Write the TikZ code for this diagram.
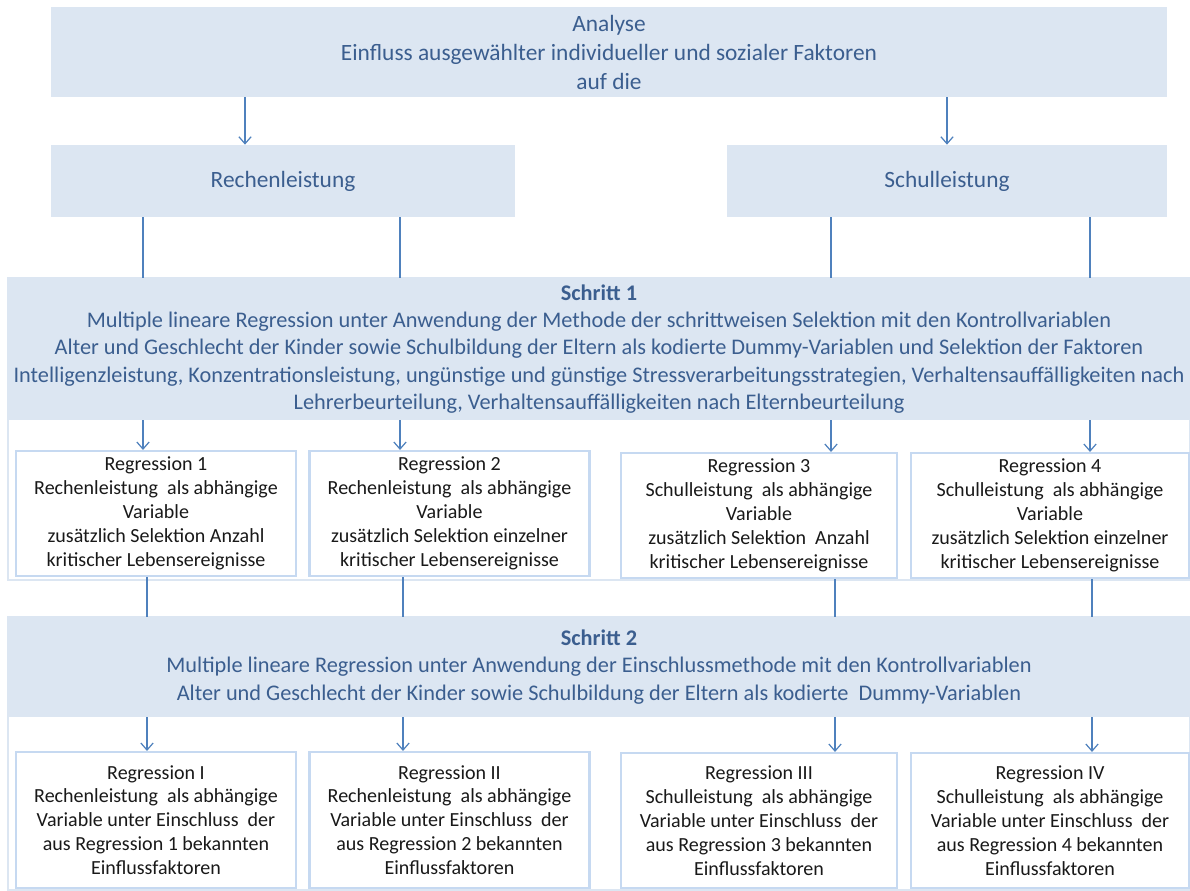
\documentclass[tikz,border=0pt]{standalone}
\usepackage{fontspec}
\setmainfont{Carlito}
\usetikzlibrary{arrows.meta}
\definecolor{hellblau}{HTML}{DCE6F2}
\definecolor{textblau}{HTML}{3B5E8F}
\definecolor{linie}{HTML}{4F81BD}
\definecolor{rahmen}{HTML}{C6D9F1}

\begin{document}
\begin{tikzpicture}[x=0.02cm,y=-0.02cm,
    kopf/.style={fill=hellblau,text=textblau,align=center,inner sep=0pt,
      font=\fontsize{13.3}{16.5}\selectfont},
    schritt/.style={kopf,minimum width=23.64cm,font=\fontsize{12.7}{15.5}\selectfont},
    reg/.style={draw=rahmen,line width=1.2pt,fill=white,align=center,inner sep=0pt,
      minimum width=5.6cm,text=black!90,font=\fontsize{11.4}{13.6}\selectfont},
    feld/.style={draw=hellblau,line width=0.8pt,inner sep=0pt,minimum width=23.64cm},
    pfeil/.style={draw=linie,line width=0.7pt,-{Straight Barb[length=4pt,width=7pt]}},
    strich/.style={draw=linie,line width=0.7pt}]
  \useasboundingbox (0,0) rectangle (1190,890);
  % Rahmen hinter den Schritten
  \draw (599,429) node[feld,minimum height=6.04cm](f1){};
  \draw (599,753.5) node[feld,minimum height=5.46cm](f2){};
  % Kopf
  \draw (609,52) node[kopf,minimum width=22.32cm,minimum height=1.8cm](an)
    {Analyse\\Einfluss ausgewählter individueller und sozialer Faktoren\\auf die};
  \draw (283,181) node[kopf,minimum width=9.28cm,minimum height=1.44cm](rl){Rechenleistung};
  \draw (947,181) node[kopf,minimum width=8.8cm,minimum height=1.44cm](sl){Schulleistung};
  % Schritt 1
  \draw (599,349) node[schritt,minimum height=2.84cm](s1)
    {\textbf{Schritt 1}\\
     Multiple lineare Regression unter Anwendung der Methode der schrittweisen Selektion mit den Kontrollvariablen\\
     Alter und Geschlecht der Kinder sowie Schulbildung der Eltern als kodierte Dummy-Variablen und Selektion der Faktoren\\
     Intelligenzleistung, Konzentrationsleistung, ungünstige und günstige Stressverarbeitungsstrategien, Verhaltensauffälligkeiten nach\\
     Lehrerbeurteilung, Verhaltensauffälligkeiten nach Elternbeurteilung};
  \draw (156,513.5) node[reg,minimum height=2.5cm](r1)
    {Regression 1\\Rechenleistung\ \ als abhängige\\Variable\\zusätzlich Selektion Anzahl\\kritischer Lebensereignisse};
  \draw (449.5,513.5) node[reg,minimum height=2.5cm](r2)
    {Regression 2\\Rechenleistung\ \ als abhängige\\Variable\\zusätzlich Selektion einzelner\\kritischer Lebensereignisse};
  \draw (759,515.5) node[reg,minimum width=5.52cm,minimum height=2.5cm](r3)
    {Regression 3\\Schulleistung\ \ als abhängige\\Variable\\zusätzlich Selektion\ \ Anzahl\\kritischer Lebensereignisse};
  \draw (1050,515.5) node[reg,minimum width=5.56cm,minimum height=2.5cm](r4)
    {Regression 4\\Schulleistung\ \ als abhängige\\Variable\\zusätzlich Selektion einzelner\\kritischer Lebensereignisse};
  % Schritt 2
  \draw (599,667) node[schritt,minimum height=2cm](s2)
    {\textbf{Schritt 2}\\
     Multiple lineare Regression unter Anwendung der Einschlussmethode mit den Kontrollvariablen\\
     Alter und Geschlecht der Kinder sowie Schulbildung der Eltern als kodierte\ \ Dummy-Variablen};
  \draw (156,820) node[reg,minimum height=2.72cm](q1)
    {Regression I\\Rechenleistung\ \ als abhängige\\Variable unter Einschluss\ \ der\\aus Regression 1 bekannten\\Einflussfaktoren};
  \draw (449.5,820) node[reg,minimum height=2.72cm](q2)
    {Regression II\\Rechenleistung\ \ als abhängige\\Variable unter Einschluss\ \ der\\aus Regression 2 bekannten\\Einflussfaktoren};
  \draw (759,820.5) node[reg,minimum width=5.52cm,minimum height=2.7cm](q3)
    {Regression III\\Schulleistung\ \ als abhängige\\Variable unter Einschluss\ \ der\\aus Regression 3 bekannten\\Einflussfaktoren};
  \draw (1050,820.5) node[reg,minimum width=5.56cm,minimum height=2.7cm](q4)
    {Regression IV\\Schulleistung\ \ als abhängige\\Variable unter Einschluss\ \ der\\aus Regression 4 bekannten\\Einflussfaktoren};
  % Spalten der Verbindungen
  \coordinate (o1) at (143,0);
  \coordinate (o2) at (400,0);
  \coordinate (o3) at (831,0);
  \coordinate (o4) at (1090,0);
  \coordinate (u1) at (147,0);
  \coordinate (u2) at (403,0);
  \coordinate (u3) at (835,0);
  \coordinate (u4) at (1092,0);
  \draw[pfeil] ([xshift=-0.76cm]rl.north |- an.south) -- ([xshift=-0.76cm]rl.north);
  \draw[pfeil] (sl.north |- an.south) -- (sl.north);
  \foreach \i/\von in {1/rl,2/rl,3/sl,4/sl} {
    \draw[strich] (\von.south -| o\i) -- (s1.north -| o\i);
    \draw[pfeil] (s1.south -| o\i) -- (r\i.north -| o\i);
    \draw[strich] (r\i.south -| u\i) -- (s2.north -| u\i);
    \draw[pfeil] (s2.south -| u\i) -- (q\i.north -| u\i);
  }
\end{tikzpicture}
\end{document}
